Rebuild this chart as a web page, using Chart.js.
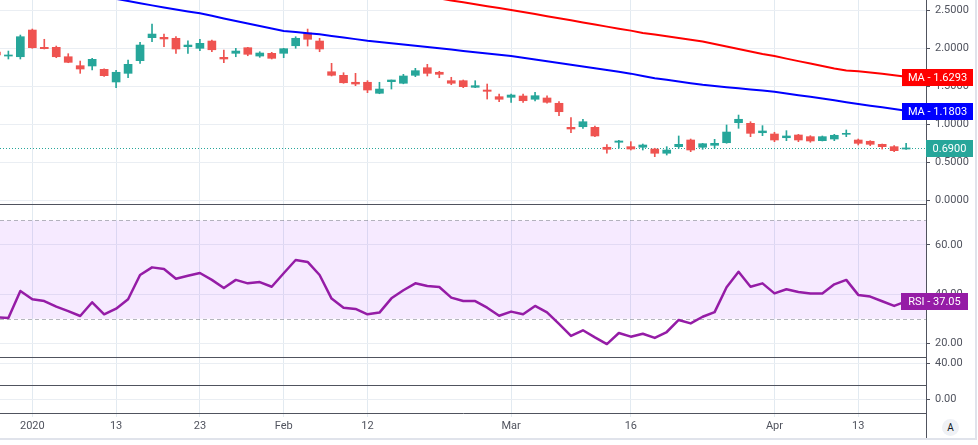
<!DOCTYPE html>
<html><head><meta charset="utf-8">
<script src="https://cdn.jsdelivr.net/npm/chart.js@4.4.1/dist/chart.umd.min.js"></script>
<style>
html,body{margin:0;padding:0;background:#fff;overflow:hidden}
#wrap{position:relative;width:978px;height:445px}
#c{position:absolute;left:0;top:0}
#frameR{position:absolute;left:975px;top:0;width:2px;height:440px;background:#e0e3eb}
#frameB{position:absolute;left:0;top:438px;width:977px;height:2px;background:#e0e3eb}
#autoBtn{position:absolute;left:942px;top:419px;width:17px;height:17px;border-radius:50%;background:#eff1f5;font:10px Roboto,sans-serif;color:#131722;text-align:center;line-height:17px}
</style></head>
<body><div id="wrap"><canvas id="c" width="978" height="445"></canvas><div id="frameR"></div><div id="frameB"></div><div id="autoBtn">A</div></div>
<script>
const dates = ['2019-12-27','2019-12-30','2019-12-31',
 '2020-01-02','2020-01-03','2020-01-06','2020-01-07','2020-01-08','2020-01-09','2020-01-10',
 '2020-01-13','2020-01-14','2020-01-15','2020-01-16','2020-01-17','2020-01-21','2020-01-22',
 '2020-01-23','2020-01-24','2020-01-27','2020-01-28','2020-01-29','2020-01-30','2020-01-31',
 '2020-02-03','2020-02-04','2020-02-05','2020-02-06','2020-02-07','2020-02-10','2020-02-11',
 '2020-02-12','2020-02-13','2020-02-14','2020-02-18','2020-02-19','2020-02-20','2020-02-21',
 '2020-02-24','2020-02-25','2020-02-26','2020-02-27','2020-02-28',
 '2020-03-02','2020-03-03','2020-03-04','2020-03-05','2020-03-06','2020-03-09','2020-03-10',
 '2020-03-11','2020-03-12','2020-03-13','2020-03-16','2020-03-17','2020-03-18','2020-03-19',
 '2020-03-20','2020-03-23','2020-03-24','2020-03-25','2020-03-26','2020-03-27','2020-03-30',
 '2020-03-31','2020-04-01','2020-04-02','2020-04-03','2020-04-06','2020-04-07','2020-04-08',
 '2020-04-09','2020-04-13','2020-04-14','2020-04-15','2020-04-16','2020-04-17'];

const open = [1.955,1.902,1.893,2.245,2.017,2.017,1.893,1.775,1.771,1.727,
 1.560,1.674,1.841,2.144,2.149,2.136,2.025,2.004,2.100,1.885,
 1.938,2.012,1.902,1.938,1.938,2.038,2.206,2.100,1.695,1.648,
 1.556,1.556,1.411,1.564,1.543,1.648,1.748,1.688,1.577,1.577,
 1.490,1.454,1.366,1.358,1.375,1.332,1.349,1.279,0.962,0.970,
 0.962,0.699,0.765,0.707,0.699,0.676,0.620,0.707,0.795,0.699,
 0.725,0.759,1.023,1.015,0.891,0.874,0.825,0.861,0.839,0.786,
 0.808,0.870,0.795,0.778,0.738,0.707,0.676];
const high = [1.968,1.968,2.179,2.258,2.123,2.034,1.933,1.836,1.872,1.735,
 1.714,1.850,2.083,2.324,2.192,2.157,2.104,2.123,2.113,1.981,
 2.004,2.017,1.959,1.951,2.004,2.157,2.258,2.136,1.806,1.682,
 1.674,1.577,1.556,1.586,1.661,1.740,1.793,1.701,1.622,1.586,
 1.577,1.533,1.401,1.401,1.401,1.424,1.379,1.300,1.089,1.068,
 0.980,0.733,0.791,0.773,0.742,0.686,0.707,0.848,0.808,0.751,
 0.804,0.993,1.124,1.036,0.984,0.897,0.918,0.870,0.852,0.848,
 0.870,0.927,0.808,0.786,0.742,0.720,0.751];
const low = [1.889,1.863,1.863,2.004,1.995,1.880,1.814,1.674,1.718,1.632,
 1.485,1.616,1.806,2.091,2.025,1.938,1.938,1.972,1.959,1.814,
 1.893,1.906,1.885,1.863,1.880,2.004,2.034,1.959,1.639,1.543,
 1.511,1.419,1.405,1.467,1.536,1.630,1.639,1.616,1.524,1.485,
 1.485,1.335,1.300,1.292,1.292,1.309,1.279,1.115,0.891,0.949,
 0.839,0.620,0.686,0.663,0.663,0.575,0.597,0.686,0.641,0.672,
 0.686,0.752,0.949,0.839,0.852,0.773,0.786,0.773,0.765,0.782,
 0.786,0.839,0.729,0.720,0.676,0.641,0.672];
const close = [1.916,1.916,2.157,2.012,1.999,1.893,1.819,1.731,1.859,1.643,
 1.688,1.793,2.047,2.192,2.127,1.995,2.047,2.070,1.985,1.863,
 1.968,1.925,1.942,1.872,1.999,2.136,2.123,1.995,1.648,1.550,
 1.533,1.454,1.467,1.586,1.639,1.709,1.674,1.661,1.543,1.498,
 1.511,1.437,1.332,1.388,1.313,1.379,1.292,1.168,0.940,1.036,
 0.848,0.672,0.782,0.676,0.729,0.620,0.663,0.738,0.663,0.746,
 0.751,0.900,1.068,0.883,0.914,0.795,0.848,0.795,0.782,0.839,
 0.857,0.883,0.751,0.738,0.707,0.654,0.690];

const maFast = [null,null,null,null,null,null,null,null,null,
 2.685,2.656,2.627,2.598,2.570,2.543,2.516,2.490,2.465,2.432,
 2.398,2.365,2.332,2.298,2.265,2.232,2.218,2.203,2.189,2.167,
 2.146,2.125,2.104,2.087,2.071,2.054,2.037,2.021,2.004,1.987,
 1.970,1.953,1.936,1.919,1.902,1.879,1.856,1.833,1.810,1.787,
 1.764,1.742,1.718,1.694,1.670,1.640,1.610,1.588,1.566,1.544,
 1.524,1.508,1.492,1.477,1.462,1.447,1.432,1.409,1.386,1.364,
 1.341,1.318,1.294,1.270,1.248,1.226,1.203,1.1803];
const maSlow = [null,null,null,null,null,null,null,null,null,null,null,null,
 null,null,null,null,null,null,null,null,null,null,null,null,
 null,null,null,null,null,null,null,null,null,null,null,null,
 2.695,2.662,2.635,2.610,2.585,2.560,2.535,2.510,2.483,2.455,
 2.428,2.400,2.373,2.345,2.318,2.290,2.263,2.237,2.207,2.185,
 2.163,2.140,2.117,2.095,2.062,2.028,1.995,1.962,1.930,1.902,
 1.868,1.835,1.803,1.770,1.738,1.712,1.700,1.685,1.668,1.648,1.6293];
const rsi = [30.6,30.3,41.3,37.9,37.2,34.9,33.1,31.1,36.7,31.8,
 34.1,37.9,47.8,50.9,50.2,46.3,47.5,48.6,45.8,42.5,
 45.8,44.4,44.9,43.0,48.5,53.9,53.1,47.8,38.2,34.5,
 34.0,31.8,32.5,38.3,41.6,44.4,43.3,42.9,38.6,37.2,
 37.2,34.5,31.2,32.9,31.8,35.2,32.6,27.9,23.0,25.3,
 22.4,19.7,24.2,22.7,23.9,22.2,24.6,29.5,28.1,30.8,
 32.7,42.8,49.1,43.0,44.4,40.3,42.0,40.9,40.3,40.3,
 44.0,45.8,39.7,39.0,37.1,35.2,37.05];

const rsiBand = [30, 70];
const priceTicks = [0, 0.5, 1, 1.5, 2, 2.5];
const rsiTicks = [20, 40, 60];
const pane3Ticks = [40];
const pane4Ticks = [0];
const xTickDates = ['2020-01-02','2020-01-13','2020-01-23','2020-02-03','2020-02-12','2020-03-02','2020-03-16','2020-04-01','2020-04-13'];
const xTickLabels = ['2020','13','23','Feb','12','Mar','16','Apr','13'];

const UP = '#26a69a', DOWN = '#ef5350', MA_SLOW = '#ff0000', MA_FAST = '#0000ff', RSI_C = '#951ca6';
const AXIS = '#50535e', TXT = '#50535e', GRID_H = '#eaeef3', GRID_V = '#e2eaf1';
const FONT = 'Roboto, "Liberation Sans", sans-serif';

const candleColors = close.map((c, i) => c >= open[i] ? UP : DOWN);
const last = close.length - 1;

function fixW(ax){ ax.width = 52; ax.paddingTop = 0; ax.paddingBottom = 0; }
function yTicks(arr){ return ax => { ax.ticks = arr.map(v => ({value: v})); }; }
const yTickOpts = (dec) => ({padding: 5, color: TXT, font: {family: FONT, size: 11}, callback: v => Number(v).toFixed(dec)});
const yGrid = {color: GRID_H, tickColor: AXIS, tickLength: 4};

const panePlugin = {
  id: 'panes',
  beforeDatasetsDraw(chart) {
    const {ctx, chartArea: a, scales: s} = chart;
    const yT = s.yR.getPixelForValue(rsiBand[1]), yB = s.yR.getPixelForValue(rsiBand[0]);
    ctx.save();
    ctx.fillStyle = 'rgba(153,21,255,0.09)';
    ctx.fillRect(a.left, yT, a.right - a.left, yB - yT);
    ctx.strokeStyle = 'rgba(120,123,134,0.55)';
    ctx.lineWidth = 1;
    ctx.setLineDash([4, 3]);
    [yT, yB].forEach(y => { const yy = Math.round(y) + 0.5; ctx.beginPath(); ctx.moveTo(a.left, yy); ctx.lineTo(a.right, yy); ctx.stroke(); });
    const yc = Math.round(s.yP.getPixelForValue(close[last])) + 0.5;
    ctx.strokeStyle = UP;
    ctx.setLineDash([1, 2]);
    ctx.beginPath(); ctx.moveTo(a.left, yc); ctx.lineTo(a.right, yc); ctx.stroke();
    ctx.restore();
  },
  afterDatasetsDraw(chart) {
    const {ctx, chartArea: a, scales: s} = chart;
    ctx.save();
    ctx.strokeStyle = AXIS; ctx.lineWidth = 1;
    [s.yP, s.yR, s.y3].forEach(sc => { const yy = Math.round(sc.bottom) + 0.5; ctx.beginPath(); ctx.moveTo(a.left, yy); ctx.lineTo(a.right, yy); ctx.stroke(); });
    const xx = Math.round(a.right) + 0.5;
    ctx.beginPath(); ctx.moveTo(xx, a.bottom); ctx.lineTo(xx, s.x.bottom); ctx.stroke();
    ctx.restore();
  },
  afterDraw(chart) {
    const {ctx, chartArea: a, scales: s} = chart;
    function tag(text, value, scale, dl, dr, bg) {
      const yc = Math.round(scale.getPixelForValue(value));
      ctx.fillStyle = bg;
      ctx.fillRect(a.right + dl, yc - 8, dr - dl, 17);
      ctx.fillStyle = '#ffffff';
      ctx.font = '11px ' + FONT;
      ctx.textAlign = 'center'; ctx.textBaseline = 'middle';
      ctx.fillText(text, a.right + (dl + dr) / 2, yc + 1);
    }
    ctx.save();
    tag('MA - ' + maSlow[last].toFixed(4), maSlow[last], s.yP, -24, 47, MA_SLOW);
    tag('MA - ' + maFast[last].toFixed(4), maFast[last], s.yP, -24, 47, MA_FAST);
    tag(close[last].toFixed(4), close[last], s.yP, 0, 47, UP);
    tag('RSI - ' + rsi[last].toFixed(2), rsi[last], s.yR, -25, 42, RSI_C);
    ctx.restore();
  }
};

new Chart(document.getElementById('c'), {
  type: 'bar',
  data: {
    datasets: [
      {type: 'line', label: 'MA slow', data: maSlow.map((v, i) => ({x: i, y: v})), yAxisID: 'yP', xAxisID: 'x',
        borderColor: MA_SLOW, borderWidth: 2, pointRadius: 0, tension: 0, clip: 0, order: 0},
      {type: 'line', label: 'MA fast', data: maFast.map((v, i) => ({x: i, y: v})), yAxisID: 'yP', xAxisID: 'x',
        borderColor: MA_FAST, borderWidth: 2, pointRadius: 0, tension: 0, clip: 0, order: 0},
      {type: 'line', label: 'RSI', data: rsi.map((v, i) => ({x: i, y: v})), yAxisID: 'yR', xAxisID: 'x',
        borderColor: RSI_C, borderWidth: 2.5, pointRadius: 0, tension: 0, clip: 0, order: 0, borderJoinStyle: 'round'},
      {type: 'bar', label: 'body', data: open.map((o, i) => ({x: i, y: [o, close[i]]})), yAxisID: 'yP', xAxisID: 'x',
        backgroundColor: candleColors, borderWidth: 0, barThickness: 8, minBarLength: 1, grouped: false, clip: 0, order: 1},
      {type: 'bar', label: 'wick', data: low.map((l, i) => ({x: i, y: [l, high[i]]})), yAxisID: 'yP', xAxisID: 'x',
        backgroundColor: candleColors, borderWidth: 0, barThickness: 1, grouped: false, clip: 0, order: 2}
    ]
  },
  options: {
    responsive: false, animation: false, devicePixelRatio: 1,
    layout: {padding: {left: 0, right: 0, top: 0, bottom: 7}, autoPadding: false},
    plugins: {legend: {display: false}, tooltip: {enabled: false}},
    scales: {
      x: {type: 'linear', position: 'bottom', min: 0.3, max: 77.66, offset: false, bounds: 'data',
        afterBuildTicks: ax => { ax.ticks = xTickDates.map(d => ({value: dates.indexOf(d)})); },
        afterFit: ax => { ax.height = 25; ax.paddingLeft = 0; ax.paddingRight = 0; },
        ticks: {autoSkip: false, maxRotation: 0, padding: 3, color: TXT, font: {family: FONT, size: 11},
          callback: v => { const k = xTickDates.indexOf(dates[v]); return k >= 0 ? xTickLabels[k] : ''; }},
        grid: {color: GRID_V, tickColor: GRID_V, tickLength: 4, offset: false},
        border: {color: AXIS, width: 1}},
      yP: {type: 'linear', position: 'right', stack: 'panes', stackWeight: 204, min: -0.049, max: 2.641, bounds: 'data',
        afterBuildTicks: yTicks(priceTicks), afterFit: fixW, ticks: yTickOpts(4), grid: yGrid, border: {color: AXIS}},
      yR: {type: 'linear', position: 'right', stack: 'panes', stackWeight: 153, min: 14.43, max: 76.68, bounds: 'data',
        afterBuildTicks: yTicks(rsiTicks), afterFit: fixW, ticks: yTickOpts(2), grid: yGrid, border: {color: AXIS}},
      y3: {type: 'linear', position: 'right', stack: 'panes', stackWeight: 28, min: 0, max: 51.6, bounds: 'data',
        afterBuildTicks: yTicks(pane3Ticks), afterFit: fixW, ticks: yTickOpts(2), grid: yGrid, border: {color: AXIS}},
      y4: {type: 'linear', position: 'right', stack: 'panes', stackWeight: 28, min: -10, max: 10, bounds: 'data',
        afterBuildTicks: yTicks(pane4Ticks), afterFit: fixW, ticks: yTickOpts(2), grid: yGrid, border: {color: AXIS}}
    }
  },
  plugins: [panePlugin]
});
</script>
</body></html>
